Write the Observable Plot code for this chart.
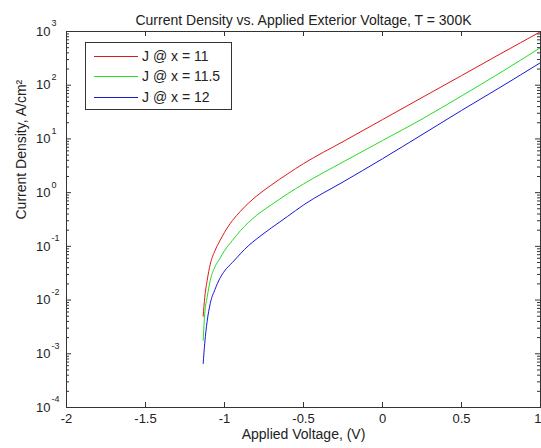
<!DOCTYPE html>
<html>
<head>
<meta charset="utf-8">
<script src="https://cdn.jsdelivr.net/npm/d3@7"></script>
<script src="https://cdn.jsdelivr.net/npm/@observablehq/plot@0.6"></script>
<style>
  html, body { margin: 0; padding: 0; background: #fff; }
  #wrap { position: relative; width: 541px; height: 448px; overflow: hidden; font-family: "Liberation Sans", Arial, sans-serif; }
  #legend { position: absolute; left: 85px; top: 42px; width: 147px; height: 68px; border: 1px solid #333; background: #fff; box-sizing: border-box; font-size: 14px; color: #222; }
  .row { position: absolute; left: 0; height: 16px; width: 100%; }
  .sw { position: absolute; left: 8px; top: 7px; width: 44px; height: 0; border-top: 1px solid; }
  .lb { position: absolute; left: 56px; top: -1px; white-space: nowrap; line-height: 16px; }
</style>
</head>
<body>
<div id="wrap"></div>
<script>
// Applied voltage (V)
const voltage = [-1.135, -1.125, -1.11, -1.09, -1.06, -1.03, -1.0, -0.95, -0.9, -0.85, -0.8, -0.7, -0.6, -0.5, -0.25, 0, 0.25, 0.5, 0.75, 1.0];
// Current density (A/cm^2)
const jX11   = [0.0050, 0.0112, 0.0229, 0.0468, 0.0832, 0.126, 0.182, 0.302, 0.447, 0.631, 0.851, 1.41, 2.24, 3.47, 8.91, 22.9, 58.9, 151, 389, 990];
const jX11_5 = [0.00178, 0.00562, 0.0112, 0.0234, 0.0417, 0.0589, 0.0832, 0.129, 0.195, 0.275, 0.372, 0.603, 0.955, 1.45, 3.72, 9.33, 23.4, 63.1, 174, 501];
const jX12   = [0.00066, 0.00158, 0.00398, 0.0087, 0.0158, 0.0251, 0.0347, 0.0501, 0.0724, 0.102, 0.135, 0.224, 0.363, 0.589, 1.58, 4.27, 12.0, 33.9, 93.3, 263];

const seriesNames = ["J @ x = 11", "J @ x = 11.5", "J @ x = 12"];
const seriesColors = ["#e01818", "#22dd22", "#1818d8"];
const xTicks = [-2, -1.5, -1, -0.5, 0, 0.5, 1];
const xTickLabels = ["-2", "-1.5", "-1", "-0.5", "0", "0.5", "1"];
const yMajor = [1e-4, 1e-3, 1e-2, 1e-1, 1e0, 1e1, 1e2, 1e3];
const yExponents = ["-4", "-3", "-2", "-1", "0", "1", "2", "3"];
const minorFactors = [2, 3, 4, 5, 6, 7, 8, 9];

const W = 541, H = 448, mL = 66, mR = 1, mT = 31, mB = 41;
const innerW = W - mL - mR, innerH = H - mT - mB;

const yMinor = [];
for (const d of yMajor.slice(0, -1)) for (const f of minorFactors) yMinor.push(d * f);

const rows = [];
[jX11, jX11_5, jX12].forEach((arr, i) => {
  arr.forEach((j, k) => rows.push({series: seriesNames[i], v: voltage[k], j}));
});

const font = "Liberation Sans, Arial, sans-serif";
const ink = "#222";
const lastTick = xTicks[xTicks.length - 1];

const chart = Plot.plot({
  width: W, height: H,
  marginLeft: mL, marginRight: mR, marginTop: mT, marginBottom: mB,
  style: {fontFamily: font, background: "#fff", overflow: "visible"},
  x: {domain: [-2, 1], axis: null},
  y: {type: "log", domain: [1e-4, 1e3], axis: null},
  color: {domain: seriesNames, range: seriesColors},
  marks: [
    // data
    Plot.line(rows, {x: "v", y: "j", stroke: "series", strokeWidth: 1, curve: "monotone-x"}),
    // box
    Plot.frame({stroke: "#333", strokeWidth: 1}),
    // x ticks (inward, bottom and top)
    Plot.tickX(xTicks, {x: d => d, stroke: "#333", insetTop: innerH - 5}),
    Plot.tickX(xTicks, {x: d => d, stroke: "#333", insetBottom: innerH - 5}),
    // y major ticks (left and right)
    Plot.tickY(yMajor, {y: d => d, stroke: "#333", insetRight: innerW - 5}),
    Plot.tickY(yMajor, {y: d => d, stroke: "#333", insetLeft: innerW - 5}),
    // y minor ticks
    Plot.tickY(yMinor, {y: d => d, stroke: "#333", insetRight: innerW - 3}),
    Plot.tickY(yMinor, {y: d => d, stroke: "#333", insetLeft: innerW - 3}),
    // x tick labels (last one kept inside the picture)
    Plot.text(xTicks.slice(0, -1), {x: d => d, frameAnchor: "bottom", dy: 15, text: (d, i) => xTickLabels[i], fontSize: 13, fill: ink}),
    Plot.text([lastTick], {x: d => d, frameAnchor: "bottom", dy: 15, dx: 1, textAnchor: "end", text: () => xTickLabels[xTickLabels.length - 1], fontSize: 13, fill: ink}),
    // y tick labels: base and exponent
    Plot.text(yMajor, {y: d => d, frameAnchor: "left", dx: -16, text: () => "10", textAnchor: "end", fontSize: 13, fill: ink}),
    Plot.text(yMajor, {y: d => d, frameAnchor: "left", dx: -15, dy: -8, text: (d, i) => yExponents[i], textAnchor: "start", fontSize: 9, fill: ink}),
    // axis labels and title
    Plot.text(["Applied Voltage, (V)"], {frameAnchor: "bottom", dy: 31, fontSize: 14, fill: ink}),
    Plot.text(["Current Density, A/cm²"], {frameAnchor: "left", dx: -45, rotate: -90, fontSize: 14, fill: ink}),
    Plot.text(["Current Density vs. Applied Exterior Voltage, T = 300K"], {frameAnchor: "top", dy: -16, fontSize: 14, fill: ink})
  ]
});

const wrap = document.getElementById("wrap");
wrap.appendChild(chart);

// legend
const legend = document.createElement("div");
legend.id = "legend";
const rowTops = [6, 26, 47];
seriesNames.forEach((name, i) => {
  const r = document.createElement("div");
  r.className = "row";
  r.style.top = rowTops[i] + "px";
  const sw = document.createElement("div");
  sw.className = "sw";
  sw.style.borderColor = seriesColors[i];
  const lb = document.createElement("div");
  lb.className = "lb";
  lb.textContent = name;
  r.appendChild(sw); r.appendChild(lb);
  legend.appendChild(r);
});
wrap.appendChild(legend);
</script>
</body>
</html>
